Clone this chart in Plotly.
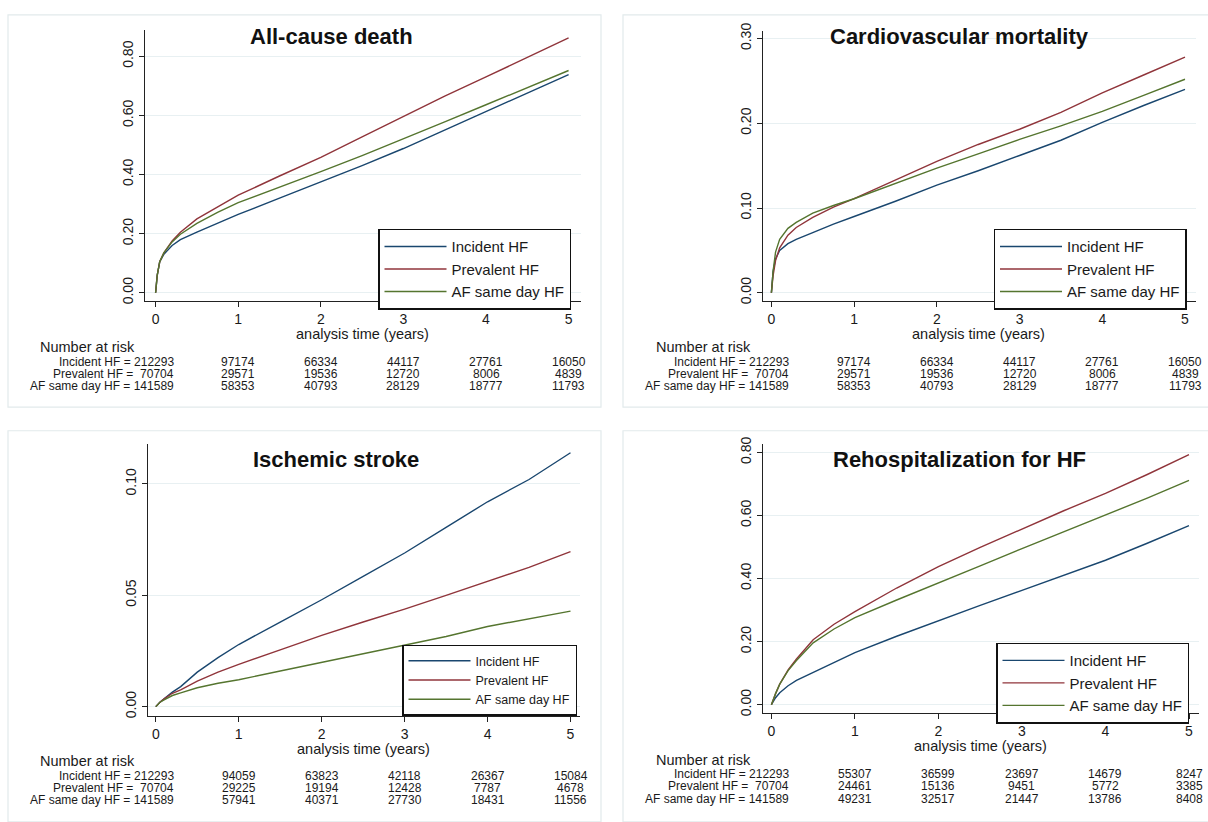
import plotly.graph_objects as go

W, H = 1208, 822

# ---------------- data ----------------
t = [0, 0.02, 0.05, 0.1, 0.2, 0.3, 0.5, 0.75, 1, 1.5, 2, 2.5, 3, 3.5, 4, 4.5, 5]
groups = ["Incident HF", "Prevalent HF", "AF same day HF"]
titles = ["All-cause death", "Cardiovascular mortality", "Ischemic stroke", "Rehospitalization for HF"]

death_incident = [0, 0.06, 0.105, 0.13, 0.16, 0.18, 0.205, 0.235, 0.265, 0.32, 0.374, 0.43, 0.488, 0.55, 0.613, 0.675, 0.738]
death_prevalent = [0, 0.06, 0.105, 0.135, 0.175, 0.205, 0.25, 0.29, 0.33, 0.395, 0.458, 0.527, 0.597, 0.665, 0.73, 0.797, 0.862]
death_sameday = [0, 0.06, 0.105, 0.135, 0.172, 0.198, 0.235, 0.272, 0.305, 0.357, 0.41, 0.464, 0.52, 0.578, 0.636, 0.695, 0.752]

cv_incident = [0, 0.025, 0.04, 0.05, 0.058, 0.063, 0.071, 0.081, 0.09, 0.108, 0.127, 0.144, 0.162, 0.18, 0.201, 0.221, 0.240]
cv_prevalent = [0, 0.02, 0.038, 0.053, 0.068, 0.077, 0.089, 0.101, 0.111, 0.133, 0.155, 0.175, 0.193, 0.213, 0.236, 0.257, 0.278]
cv_sameday = [0, 0.025, 0.048, 0.063, 0.076, 0.083, 0.094, 0.103, 0.111, 0.129, 0.147, 0.164, 0.181, 0.197, 0.214, 0.233, 0.252]

stroke_incident = [0, 0.001, 0.002, 0.0035, 0.0065, 0.009, 0.0155, 0.022, 0.0279, 0.038, 0.048, 0.0585, 0.069, 0.0805, 0.092, 0.102, 0.114]
stroke_prevalent = [0, 0.001, 0.002, 0.0035, 0.006, 0.0075, 0.0115, 0.0155, 0.019, 0.0255, 0.032, 0.038, 0.0438, 0.050, 0.0563, 0.0625, 0.0696]
stroke_sameday = [0, 0.001, 0.002, 0.003, 0.005, 0.0062, 0.0085, 0.0105, 0.0121, 0.016, 0.0198, 0.0237, 0.0276, 0.0315, 0.036, 0.0393, 0.0429]

rehosp_incident = [0, 0.01, 0.022, 0.038, 0.06, 0.077, 0.102, 0.135, 0.165, 0.217, 0.267, 0.315, 0.3625, 0.41, 0.458, 0.512, 0.568]
rehosp_prevalent = [0, 0.015, 0.035, 0.065, 0.11, 0.145, 0.206, 0.255, 0.295, 0.37, 0.4375, 0.499, 0.558, 0.615, 0.670, 0.73, 0.793]
rehosp_sameday = [0, 0.015, 0.035, 0.065, 0.108, 0.14, 0.196, 0.24, 0.276, 0.332, 0.385, 0.44, 0.495, 0.548, 0.602, 0.655, 0.711]

risk_times = [0, 1, 2, 3, 4, 5]
risk_death_incident = [212293, 97174, 66334, 44117, 27761, 16050]
risk_death_prevalent = [70704, 29571, 19536, 12720, 8006, 4839]
risk_death_sameday = [141589, 58353, 40793, 28129, 18777, 11793]
risk_cv_incident = [212293, 97174, 66334, 44117, 27761, 16050]
risk_cv_prevalent = [70704, 29571, 19536, 12720, 8006, 4839]
risk_cv_sameday = [141589, 58353, 40793, 28129, 18777, 11793]
risk_stroke_incident = [212293, 94059, 63823, 42118, 26367, 15084]
risk_stroke_prevalent = [70704, 29225, 19194, 12428, 7787, 4678]
risk_stroke_sameday = [141589, 57941, 40371, 27730, 18431, 11556]
risk_rehosp_incident = [212293, 55307, 36599, 23697, 14679, 8247]
risk_rehosp_prevalent = [70704, 24461, 15136, 9451, 5772, 3385]
risk_rehosp_sameday = [141589, 49231, 32517, 21447, 13786, 8408]

y_ticks_death = [0, 0.2, 0.4, 0.6, 0.8]
y_ticks_cv = [0, 0.1, 0.2, 0.3]
y_ticks_stroke = [0, 0.05, 0.10]
y_ticks_rehosp = [0, 0.2, 0.4, 0.6, 0.8]
x_ticks = [0, 1, 2, 3, 4, 5]

curves = [
    [death_incident, death_prevalent, death_sameday],
    [cv_incident, cv_prevalent, cv_sameday],
    [stroke_incident, stroke_prevalent, stroke_sameday],
    [rehosp_incident, rehosp_prevalent, rehosp_sameday],
]
risks = [
    [risk_death_incident, risk_death_prevalent, risk_death_sameday],
    [risk_cv_incident, risk_cv_prevalent, risk_cv_sameday],
    [risk_stroke_incident, risk_stroke_prevalent, risk_stroke_sameday],
    [risk_rehosp_incident, risk_rehosp_prevalent, risk_rehosp_sameday],
]
yticks = [y_ticks_death, y_ticks_cv, y_ticks_stroke, y_ticks_rehosp]

# ---------------- styling / layout geometry (pixels) ----------------
colors = ["#1a476f", "#90353b", "#55752f"]
FONT = "Liberation Sans, Arial, sans-serif"

def px(x):
    return x / W

def py(y):
    return 1 - y / H

panels = [
    dict(l=145, r=581, t=22, b=297.5, x0=155.6, x5=568.6, yv=(0, 0.8), ypx=(289, 49),
         title=(331, 29), leg=(378, 224), legfont=15, axt=331, nar=38,
         rows=(344, 359, 371.5, 384)),
    dict(l=763, r=1196, t=23, b=297.5, x0=771.4, x5=1185, yv=(0, 0.3), ypx=(289, 31),
         title=(960, 29), leg=(993.5, 224), legfont=15, axt=331, nar=653.6,
         rows=(344, 359, 371.5, 384)),
    dict(l=147.7, r=580, t=442, b=718, x0=155.8, x5=570.5, yv=(0, 0.1), ypx=(709, 483),
         title=(336, 458), leg=(402, 646), legfont=12.5, axt=752, nar=38,
         rows=(764, 779, 791.5, 804)),
    dict(l=763, r=1199, t=442, b=715, x0=771.4, x5=1189, yv=(0, 0.8), ypx=(707, 451),
         title=(960, 458), leg=(996, 644), legfont=15, axt=748.5, nar=653.6,
         rows=(763, 777.5, 790, 803)),
]

fig = go.Figure()
layout = dict(width=W, height=H, margin=dict(l=0, r=0, t=0, b=0),
              paper_bgcolor="white", plot_bgcolor="white", showlegend=True,
              font=dict(family=FONT, color="#1a1a1a"))
annotations = []
shapes = []

frames = [(8, 7, 601, 405), (623, 7, 1212, 405), (8, 429, 601, 826), (623, 429, 1212, 826)]
for (x1, y1, x2, y2) in frames:
    shapes.append(dict(type="rect", xref="paper", yref="paper", x0=px(x1), x1=px(x2),
                       y0=py(y2), y1=py(y1), line=dict(color="#e2eaec", width=1.2),
                       fillcolor="rgba(0,0,0,0)", layer="below"))

for i, p in enumerate(panels):
    k = "" if i == 0 else str(i + 1)
    xa, ya = "x" + k, "y" + k
    legname = "legend" if i == 0 else "legend" + str(i + 1)
    ppx = (p["x5"] - p["x0"]) / 5.0
    xr = [(p["l"] - p["x0"]) / ppx, (p["r"] - p["x0"]) / ppx]
    (v0, v1), (y0p, y1p) = p["yv"], p["ypx"]
    ppy = (y0p - y1p) / (v1 - v0)
    yr = [v0 - (p["b"] - y0p) / ppy, v0 + (y0p - p["t"]) / ppy]

    for g in range(3):
        fig.add_trace(go.Scatter(x=t, y=curves[i][g], mode="lines", name=groups[g],
                                 line=dict(color=colors[g], width=1.4),
                                 xaxis=xa, yaxis=ya, legend=legname))

    layout["xaxis" + k] = dict(domain=[px(p["l"]), px(p["r"])], range=xr, anchor=ya,
                               tickvals=x_ticks, ticks="outside", ticklen=5, tickwidth=1.2,
                               tickcolor="#222", showline=True, linecolor="#222", linewidth=1.4,
                               showgrid=False, zeroline=False,
                               tickfont=dict(size=14, family=FONT, color="#1a1a1a"))
    layout["yaxis" + k] = dict(domain=[py(p["b"]), py(p["t"])], range=yr, anchor=xa,
                               tickvals=yticks[i], tickformat=".2f", tickangle=-90,
                               ticks="outside", ticklen=5, tickwidth=1.2, tickcolor="#222",
                               showline=True, linecolor="#222", linewidth=1.4,
                               showgrid=True, gridcolor="#e8f0f2", gridwidth=1.2, zeroline=False,
                               tickfont=dict(size=14, family=FONT, color="#1a1a1a"))
    layout[legname] = dict(x=px(p["leg"][0]), y=py(p["leg"][1]), xanchor="left", yanchor="top",
                           bordercolor="#111", borderwidth=1.5, bgcolor="white",
                           font=dict(size=p["legfont"], family=FONT, color="#1a1a1a"),
                           tracegroupgap=0, itemwidth=62)

    annotations.append(dict(text="<b>" + titles[i] + "</b>", xref="paper", yref="paper",
                            x=px(p["title"][0]), y=py(p["title"][1]), xanchor="center",
                            yanchor="middle", showarrow=False,
                            font=dict(size=22, family=FONT, color="#111")))
    annotations.append(dict(text="analysis time (years)", xref=xa, yref="paper", x=2.5,
                            y=py(p["axt"]), xanchor="center", yanchor="middle", showarrow=False,
                            font=dict(size=14.5, family=FONT, color="#1a1a1a")))
    annotations.append(dict(text="Number at risk", xref="paper", yref="paper", x=px(p["nar"]),
                            y=py(p["rows"][0]), xanchor="left", yanchor="middle", showarrow=False,
                            font=dict(size=14.5, family=FONT, color="#1a1a1a")))
    for g in range(3):
        yrow = py(p["rows"][g + 1])
        for j, tt in enumerate(risk_times):
            n = risks[i][g][j]
            if j == 0:
                lab = groups[g] + " = " + ("\u00a0" if n < 100000 else "") + str(n)
                annotations.append(dict(text=lab, xref=xa, yref="paper", x=tt, y=yrow,
                                        xanchor="right", yanchor="middle", xshift=20,
                                        showarrow=False,
                                        font=dict(size=12, family=FONT, color="#1a1a1a")))
            else:
                annotations.append(dict(text=str(n), xref=xa, yref="paper", x=tt, y=yrow,
                                        xanchor="center", yanchor="middle", showarrow=False,
                                        font=dict(size=12, family=FONT, color="#1a1a1a")))

layout["annotations"] = annotations
layout["shapes"] = shapes
fig.update_layout(**layout)

post = ("document.body.style.margin='0';document.body.style.padding='0';"
        "var gd=document.getElementById('{plot_id}');gd.style.position='absolute';"
        "gd.style.left='0px';gd.style.top='0px';")
fig.write_html("out.html", post_script=post, config={"displayModeBar": False})
